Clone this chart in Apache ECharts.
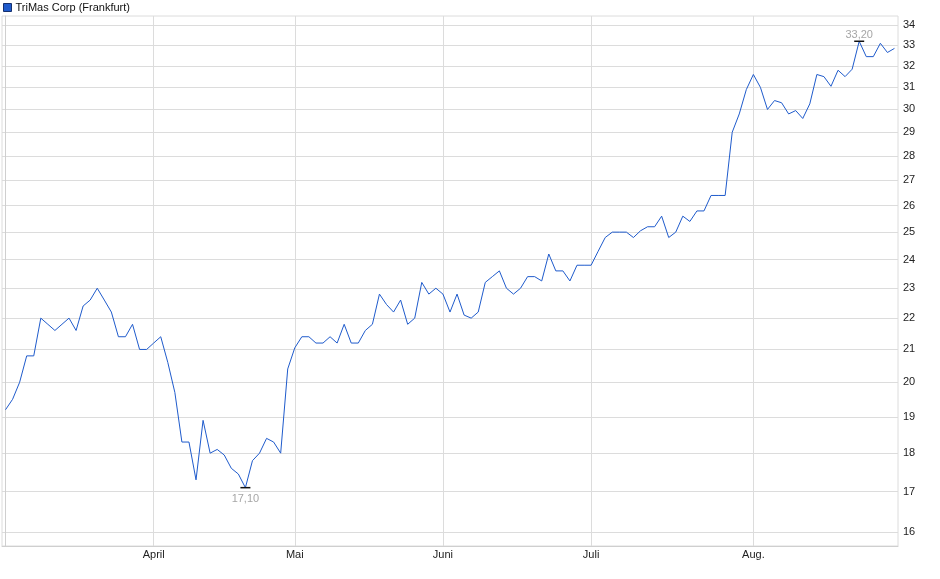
<!DOCTYPE html>
<html>
<head>
<meta charset="utf-8">
<script src="https://cdn.jsdelivr.net/npm/echarts@6/dist/echarts.min.js"></script>
<style>
html,body{margin:0;padding:0;background:#fff;}
#chart{width:940px;height:579px;}
</style>
</head>
<body>
<div id="chart"></div>
<script>
// ---- data ----
const seriesName = 'TriMas Corp (Frankfurt)';

const dates = [
  '2025-03-03','2025-03-04','2025-03-05','2025-03-06','2025-03-07','2025-03-10','2025-03-11','2025-03-12','2025-03-13','2025-03-14',
  '2025-03-17','2025-03-18','2025-03-19','2025-03-20','2025-03-21','2025-03-24','2025-03-25','2025-03-26','2025-03-27','2025-03-28','2025-03-31',
  '2025-04-01','2025-04-02','2025-04-03','2025-04-04','2025-04-07','2025-04-08','2025-04-09','2025-04-10','2025-04-11','2025-04-14',
  '2025-04-15','2025-04-16','2025-04-17','2025-04-22','2025-04-23','2025-04-24','2025-04-25','2025-04-28','2025-04-29','2025-04-30',
  '2025-05-02','2025-05-05','2025-05-06','2025-05-07','2025-05-08','2025-05-09','2025-05-12','2025-05-13','2025-05-14','2025-05-15',
  '2025-05-16','2025-05-19','2025-05-20','2025-05-21','2025-05-22','2025-05-23','2025-05-26','2025-05-27','2025-05-28','2025-05-29','2025-05-30',
  '2025-06-02','2025-06-03','2025-06-04','2025-06-05','2025-06-06','2025-06-09','2025-06-10','2025-06-11','2025-06-12','2025-06-13',
  '2025-06-16','2025-06-17','2025-06-18','2025-06-19','2025-06-20','2025-06-23','2025-06-24','2025-06-25','2025-06-26','2025-06-27','2025-06-30',
  '2025-07-01','2025-07-02','2025-07-03','2025-07-04','2025-07-07','2025-07-08','2025-07-09','2025-07-10','2025-07-11','2025-07-14',
  '2025-07-15','2025-07-16','2025-07-17','2025-07-18','2025-07-21','2025-07-22','2025-07-23','2025-07-24','2025-07-25','2025-07-28',
  '2025-07-29','2025-07-30','2025-07-31',
  '2025-08-01','2025-08-04','2025-08-05','2025-08-06','2025-08-07','2025-08-08','2025-08-11','2025-08-12','2025-08-13','2025-08-14',
  '2025-08-15','2025-08-18','2025-08-19','2025-08-20','2025-08-21','2025-08-22','2025-08-25','2025-08-26','2025-08-27','2025-08-28','2025-08-29'
];

const prices = [
  // March
  19.2, 19.5, 20.0, 20.8, 20.8, 22.0, 21.8, 21.6, 21.8, 22.0,
  21.6, 22.4, 22.6, 23.0, 22.6, 22.2, 21.4, 21.4, 21.8, 21.0, 21.0,
  // April
  21.2, 21.4, 20.6, 19.7, 18.3, 18.3, 17.3, 18.9, 18.0, 18.1,
  17.95, 17.6, 17.45, 17.1, 17.8, 18.0, 18.4, 18.3, 18.0, 20.4,
  // May
  21.05, 21.4, 21.4, 21.2, 21.2, 21.4, 21.2, 21.8, 21.2, 21.2,
  21.6, 21.8, 22.8, 22.45, 22.2, 22.6, 21.8, 22.0, 23.2, 22.8, 23.0,
  // June
  22.8, 22.2, 22.8, 22.1, 22.0, 22.2, 23.2, 23.4, 23.6, 23.0,
  22.8, 23.0, 23.4, 23.4, 23.25, 24.2, 23.6, 23.6, 23.25, 23.8, 23.8,
  // July
  23.8, 24.3, 24.8, 25.0, 25.0, 25.0, 24.8, 25.05, 25.2, 25.2,
  25.6, 24.8, 25.0, 25.6, 25.4, 25.8, 25.8, 26.4, 26.4, 26.4,
  29.0, 29.8, 30.9,
  // August
  31.6, 31.0, 30.0, 30.4, 30.3, 29.8, 29.95, 29.6, 30.25, 31.6,
  31.5, 31.05, 31.8, 31.5, 31.85, 33.2, 32.45, 32.45, 33.1, 32.65, 32.85
];

const monthNames = {'03': 'März', '04': 'April', '05': 'Mai', '06': 'Juni', '07': 'Juli', '08': 'Aug.'};
const yTickValues = [16,17,18,19,20,21,22,23,24,25,26,27,28,29,30,31,32,33,34];
const yMin = 15.68;
const yMax = 34.47;

// ---- derived ----
const monthStarts = [];
dates.forEach((d, i) => {
  if (i === 0 || d.slice(5, 7) !== dates[i - 1].slice(5, 7)) monthStarts.push(i);
});
const labelStarts = monthStarts.filter(i => i !== 0);
const seriesData = prices.map((p, i) => [i, p]);

const FONT = '"Liberation Sans", Arial, sans-serif';
const GRID = '#dcdcdc';

const chart = echarts.init(document.getElementById('chart'), null, {renderer: 'canvas'});
chart.setOption({
  animation: false,
  backgroundColor: '#fff',
  textStyle: {fontFamily: FONT},
  legend: {
    data: [seriesName],
    left: 3, top: 2, padding: 0,
    icon: 'rect', itemWidth: 8, itemHeight: 8, itemGap: 10,
    itemStyle: {color: '#1f5bcc', borderColor: '#16306e', borderWidth: 1},
    textStyle: {fontSize: 11, color: '#111', fontFamily: FONT, padding: [1, 0, 0, -1]}
  },
  grid: {
    left: 2, right: 42, top: 16, bottom: 33,
    show: true, borderColor: GRID, borderWidth: 1,
    outerBoundsMode: 'none', containLabel: false
  },
  xAxis: {
    type: 'value',
    min: -0.5, max: dates.length - 0.5,
    axisLine: {show: true, lineStyle: {color: '#cfcfcf', width: 1}},
    axisTick: {show: false, customValues: monthStarts},
    splitLine: {show: true, lineStyle: {color: GRID, width: 1}},
    axisLabel: {
      customValues: labelStarts,
      margin: 3,
      fontSize: 11, color: '#222', fontFamily: FONT,
      formatter: v => monthNames[dates[Math.round(v)].slice(5, 7)]
    }
  },
  yAxis: {
    type: 'log', logBase: 10,
    position: 'right',
    min: yMin, max: yMax,
    axisLine: {show: true, lineStyle: {color: '#cfcfcf', width: 1}},
    axisTick: {show: false, customValues: yTickValues},
    splitLine: {show: true, lineStyle: {color: GRID, width: 1}},
    axisLabel: {
      customValues: yTickValues,
      margin: 5,
      fontSize: 11, color: '#222', fontFamily: FONT,
      formatter: v => String(Math.round(v))
    }
  },
  series: [{
    name: seriesName,
    type: 'line',
    data: seriesData,
    showSymbol: false,
    symbol: 'none',
    itemStyle: {color: '#1f5bcc'},
    lineStyle: {color: '#1f5bcc', width: 1},
    emphasis: {disabled: true},
    markPoint: {
      symbol: 'rect',
      symbolSize: [10, 1.5],
      itemStyle: {color: '#111'},
      label: {
        fontSize: 11, color: '#a6a6a6', fontFamily: FONT,
        formatter: p => Number(p.value).toFixed(2).replace('.', ',')
      },
      data: [
        {type: 'max', valueDim: 'y', label: {position: 'top', distance: 0}},
        {type: 'min', valueDim: 'y', label: {position: 'bottom', distance: 5}}
      ]
    }
  }]
});
</script>
</body>
</html>
